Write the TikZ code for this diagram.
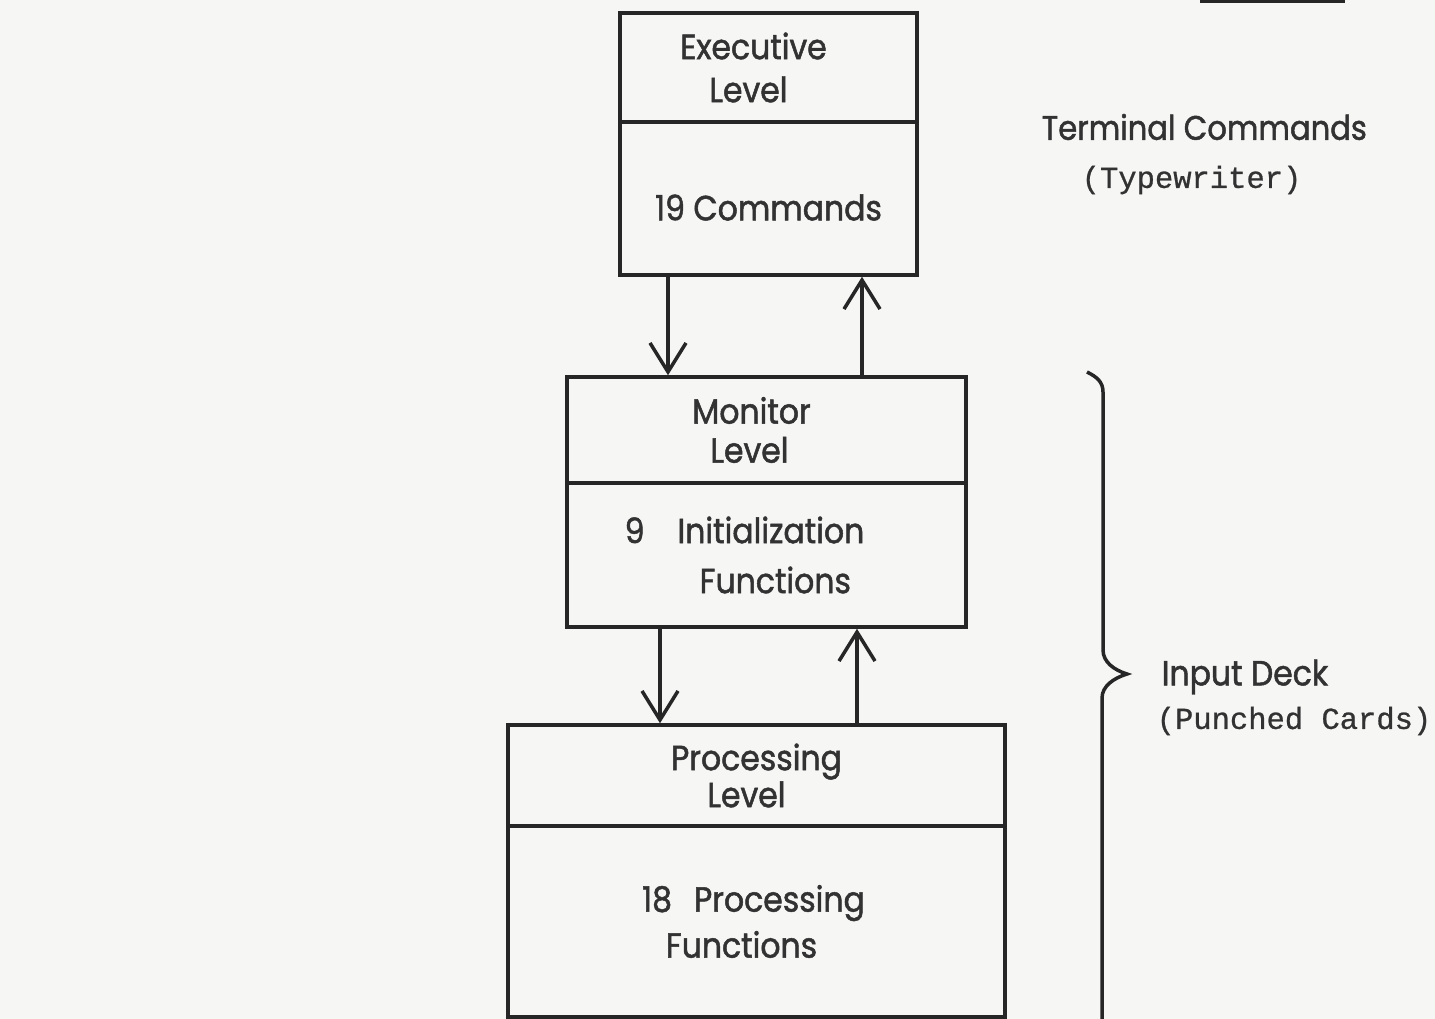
\documentclass[tikz,border=0pt]{standalone}
\usepackage{fontspec}
\setmainfont{Poppins}[FakeStretch=0.9,FakeBold=1.4]
\newfontfamily\typefont{Liberation Mono}[FakeBold=0.8]
\usepackage{tikz}
\usetikzlibrary{arrows.meta,positioning,calc}
\definecolor{paper}{RGB}{246,246,245}
\definecolor{ink}{RGB}{38,38,38}
\definecolor{lettering}{RGB}{50,50,50}

\begin{document}
\begin{tikzpicture}[x=1pt,y=-1pt,line width=3.5pt,
    part/.style={rectangle,draw=ink,align=center,inner sep=0pt,text=lettering,
      font=\fontsize{35}{43}\selectfont},
    note/.style={anchor=west,align=left,text=lettering,inner sep=0pt},
    flow/.style={draw=ink,-{Straight Barb[length=29pt,width=36pt,line width=3.5pt]}}]

    % paper and page size
    \fill[paper] (0,0) rectangle (1435,1019);
    \useasboundingbox (0,0) rectangle (1435,1019);

    % Executive level
    \node[part,minimum width=297,minimum height=109] (exectop) at (768.5,67.5)
      {Executive\hspace*{30pt}\\Level\hspace*{40pt}};
    \node[part,minimum width=297,minimum height=153] (execbody) at (768.5,198.5)
      {\rule{0pt}{44pt}19 Commands};

    % Monitor level
    \node[part,minimum width=399,minimum height=106,font=\fontsize{35}{39}\selectfont] (montop) at (766.5,430)
      {Monitor\hspace*{30pt}\\Level\hspace*{34pt}};
    \node[part,minimum width=399,minimum height=144,align=left,font=\fontsize{35}{50}\selectfont] (monbody) at (766.5,555)
      {9\hspace{33pt}Initialization\hspace*{44pt}\\\hspace*{75pt}Functions};

    % Processing level
    \node[part,minimum width=497,minimum height=101,font=\fontsize{35}{37}\selectfont] (proctop) at (756.5,775.5)
      {Processing\\Level\hspace*{20pt}};
    \node[part,minimum width=497,minimum height=191,font=\fontsize{35}{46}\selectfont] (procbody) at (756.5,921.5)
      {18\hspace{22pt}Processing\hspace*{6pt}\\Functions\hspace*{30pt}};

    % calls down, returns up
    \draw[flow] (execbody.south -| 668,0) -- (montop.north -| 668,0);
    \draw[flow] (montop.north -| 862,0) -- (execbody.south -| 862,0);
    \draw[flow] (monbody.south -| 660,0) -- (proctop.north -| 660,0);
    \draw[flow] (proctop.north -| 857,0) -- (monbody.south -| 857,0);

    % sources of the input
    \node[note,font=\fontsize{34}{34}\selectfont] (term) at (1040,127) {Terminal Commands};
    \node[note,font=\typefont\fontsize{30.5}{30.5}\selectfont] (typer) at (1080,180) {(Typewriter)};
    \node[note,font=\fontsize{35}{35}\selectfont] (deck) at (1160,677) {Input Deck};
    \node[note,font=\typefont\fontsize{30.5}{30.5}\selectfont] (cards) at (1155,721) {(Punched Cards)};

    % brace over monitor and processing levels
    \coordinate (bracetip) at (1127,674);
    \draw[ink,line width=3.5pt] (1087,372) .. controls (1097,377) and (1103,382) .. (1103,392)
      -- (1103,650) .. controls (1103,662) and (1114,670) .. (bracetip)
      .. controls (1114,678) and (1102,686) .. (1102,698) -- (1102,1030);

    % rule at top right
    \draw[ink,line width=3.5pt] (1200,1) -- (1345,1);
\end{tikzpicture}
\end{document}
